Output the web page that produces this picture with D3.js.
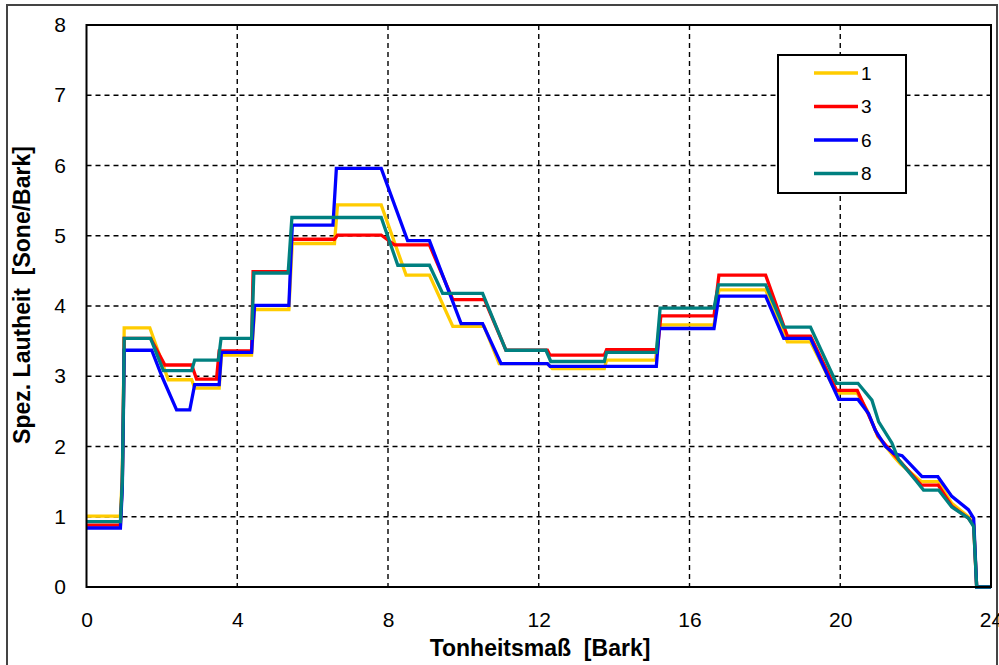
<!DOCTYPE html>
<html>
<head>
<meta charset="utf-8">
<script src="https://cdn.jsdelivr.net/npm/d3@7"></script>
<style>
  body { margin: 0; background: #fff; }
  svg { display: block; }
  text { font-family: "Liberation Sans", Arial, sans-serif; fill: #000; }
</style>
</head>
<body>
<div id="content"></div>
<script>
/* Spezifische Lautheit, 4 Messungen */

const WIDTH = 999;
const HEIGHT = 665;
const PLOT = {left: 86.5, right: 991, top: 25, bottom: 587};

const xTicks = [0, 4, 8, 12, 16, 20, 24];
const yTicks = [0, 1, 2, 3, 4, 5, 6, 7, 8];
const seriesNames = ["1", "3", "6", "8"];
const seriesColors = ["#ffcc00", "#ff0000", "#0000ff", "#008080"];

// [Bark, Sone/Bark]
const loud1 = [[0,1.01],[0.9,1.01],[0.95,1.6],[0.98,2.7],[1.0,3.69],[1.68,3.69],[2.17,2.95],[2.79,2.95],[2.87,2.83],[3.52,2.83],[3.58,3.30],[4.38,3.30],[4.46,3.95],[5.37,3.95],[5.46,4.89],[6.58,4.89],[6.66,5.44],[7.82,5.44],[8.48,4.44],[9.10,4.44],[9.72,3.71],[10.55,3.71],[10.95,3.18],[12.23,3.18],[12.36,3.11],[13.74,3.11],[13.8,3.23],[15.1,3.23],[15.2,3.73],[16.65,3.73],[16.78,4.23],[18.02,4.23],[18.6,3.49],[19.21,3.49],[19.9,2.76],[20.45,2.76],[20.71,2.52],[21.0,2.14],[21.42,1.86],[21.6,1.75],[22.15,1.50],[22.6,1.50],[22.96,1.19],[23.4,1.0],[23.54,0.9],[23.62,0],[24,0]];
const loud3 = [[0,0.88],[0.9,0.88],[0.95,1.5],[0.98,2.6],[1.0,3.54],[1.70,3.54],[2.08,3.16],[2.79,3.16],[2.92,2.96],[3.45,2.96],[3.52,3.36],[4.38,3.36],[4.42,4.49],[5.37,4.49],[5.45,4.95],[6.58,4.95],[6.66,5.01],[7.82,5.01],[8.17,4.87],[9.10,4.87],[9.72,4.09],[10.56,4.09],[11.13,3.37],[12.23,3.37],[12.3,3.30],[13.74,3.30],[13.8,3.38],[15.15,3.38],[15.24,3.86],[16.65,3.86],[16.78,4.44],[18.02,4.44],[18.6,3.57],[19.21,3.57],[19.9,2.80],[20.45,2.80],[20.71,2.5],[21.0,2.15],[21.4,1.9],[21.6,1.78],[22.15,1.45],[22.6,1.45],[22.96,1.15],[23.4,0.98],[23.54,0.88],[23.62,0],[24,0]];
const loud6 = [[0,0.84],[0.9,0.84],[0.95,1.4],[0.98,2.5],[1.0,3.37],[1.73,3.37],[2.0,3.0],[2.39,2.52],[2.74,2.52],[2.87,2.88],[3.52,2.88],[3.58,3.34],[4.38,3.34],[4.46,4.01],[5.37,4.01],[5.46,5.15],[6.54,5.15],[6.63,5.96],[7.82,5.96],[8.52,4.93],[9.10,4.93],[9.94,3.75],[10.51,3.75],[11.0,3.18],[12.23,3.18],[12.3,3.14],[15.12,3.14],[15.2,3.68],[16.65,3.68],[16.78,4.14],[18.02,4.14],[18.5,3.54],[19.21,3.54],[19.96,2.67],[20.47,2.67],[20.75,2.47],[20.93,2.23],[21.2,2.0],[21.42,1.90],[21.64,1.87],[22.17,1.57],[22.59,1.57],[22.96,1.29],[23.4,1.10],[23.54,0.98],[23.62,0],[24,0]];
const loud8 = [[0,0.93],[0.9,0.93],[0.95,1.5],[0.98,2.6],[1.0,3.54],[1.70,3.54],[2.04,3.08],[2.79,3.08],[2.87,3.23],[3.50,3.23],[3.57,3.54],[4.38,3.54],[4.44,4.47],[5.35,4.47],[5.45,5.26],[7.82,5.26],[8.26,4.58],[9.10,4.58],[9.45,4.18],[10.51,4.18],[11.13,3.37],[12.19,3.37],[12.32,3.21],[13.74,3.21],[13.8,3.34],[15.12,3.34],[15.22,3.97],[16.65,3.97],[16.77,4.30],[18.02,4.30],[18.5,3.70],[19.21,3.70],[19.9,2.90],[20.47,2.90],[20.84,2.66],[21.02,2.35],[21.37,2.05],[21.55,1.81],[22.0,1.52],[22.21,1.38],[22.61,1.38],[22.96,1.14],[23.4,0.98],[23.54,0.86],[23.62,0],[24,0]];

const allSeries = [loud1, loud3, loud6, loud8];

window.onload = () => {
    const svg = d3.select("#content").append("svg")
        .attr("width", WIDTH).attr("height", HEIGHT);

    // outer frame
    svg.append("rect")
        .attr("x", 7).attr("y", 5).attr("width", 990).attr("height", 670)
        .attr("fill", "none").attr("stroke", "#444").attr("stroke-width", 2);

    const x = d3.scaleLinear().domain([0, 24]).range([PLOT.left, PLOT.right]);
    const y = d3.scaleLinear().domain([0, 8]).range([PLOT.bottom, PLOT.top]);

    // dashed grid
    svg.append("g").selectAll("line")
        .data(xTicks.slice(1, -1)).enter().append("line")
        .attr("x1", (d) => x(d)).attr("x2", (d) => x(d))
        .attr("y1", PLOT.top).attr("y2", PLOT.bottom)
        .attr("stroke", "#000").attr("stroke-width", 1.4).attr("stroke-dasharray", "5,4");
    svg.append("g").selectAll("line")
        .data(yTicks.slice(1, -1)).enter().append("line")
        .attr("x1", PLOT.left).attr("x2", PLOT.right)
        .attr("y1", (d) => y(d)).attr("y2", (d) => y(d))
        .attr("stroke", "#000").attr("stroke-width", 1.4).attr("stroke-dasharray", "5,4");

    // axes (labels only)
    const xAxis = svg.append("g")
        .attr("transform", "translate(0," + (PLOT.bottom + 22) + ")")
        .call(d3.axisBottom(x).tickValues(xTicks).tickSize(0).tickFormat(d3.format("d")));
    const yAxis = svg.append("g")
        .attr("transform", "translate(" + (PLOT.left - 17.5) + ",0)")
        .call(d3.axisLeft(y).tickValues(yTicks).tickSize(0).tickFormat(d3.format("d")));
    [xAxis, yAxis].forEach((g) => {
        g.select(".domain").remove();
        g.selectAll("text").attr("font-size", 21).attr("font-family", "Liberation Sans, Arial, sans-serif");
    });

    // lines
    const line = d3.line().x((d) => x(d[0])).y((d) => y(d[1]));
    svg.append("g").selectAll("path")
        .data(allSeries).enter().append("path")
        .attr("d", line)
        .attr("fill", "none")
        .attr("stroke", (d, i) => seriesColors[i])
        .attr("stroke-width", 3.3)
        .attr("stroke-linejoin", "miter");

    // plot border
    svg.append("rect")
        .attr("x", PLOT.left).attr("y", PLOT.top)
        .attr("width", PLOT.right - PLOT.left).attr("height", PLOT.bottom - PLOT.top)
        .attr("fill", "none").attr("stroke", "#000").attr("stroke-width", 2);

    // axis titles
    svg.append("text")
        .attr("x", 540).attr("y", 656)
        .attr("text-anchor", "middle").attr("font-size", 23).attr("font-weight", "bold")
        .attr("xml:space", "preserve")
        .text("Tonheitsmaß  [Bark]");
    svg.append("text")
        .attr("transform", "translate(30,295) rotate(-90)")
        .attr("text-anchor", "middle").attr("font-size", 23).attr("font-weight", "bold")
        .attr("xml:space", "preserve")
        .text("Spez. Lautheit  [Sone/Bark]");

    // legend
    const legend = svg.append("g");
    legend.append("rect")
        .attr("x", 778).attr("y", 55).attr("width", 128).attr("height", 138)
        .attr("fill", "#fff").attr("stroke", "#000").attr("stroke-width", 2);
    const rows = legend.selectAll("g.row")
        .data(seriesNames).enter().append("g")
        .attr("transform", (d, i) => "translate(0," + (73 + i * 33.5) + ")");
    rows.append("line")
        .attr("x1", 814).attr("x2", 858)
        .attr("stroke", (d, i) => seriesColors[i]).attr("stroke-width", 3.3);
    rows.append("text")
        .attr("x", 861).attr("dy", "0.36em")
        .attr("font-size", 19)
        .text((d) => d);
};
</script>
</body>
</html>
